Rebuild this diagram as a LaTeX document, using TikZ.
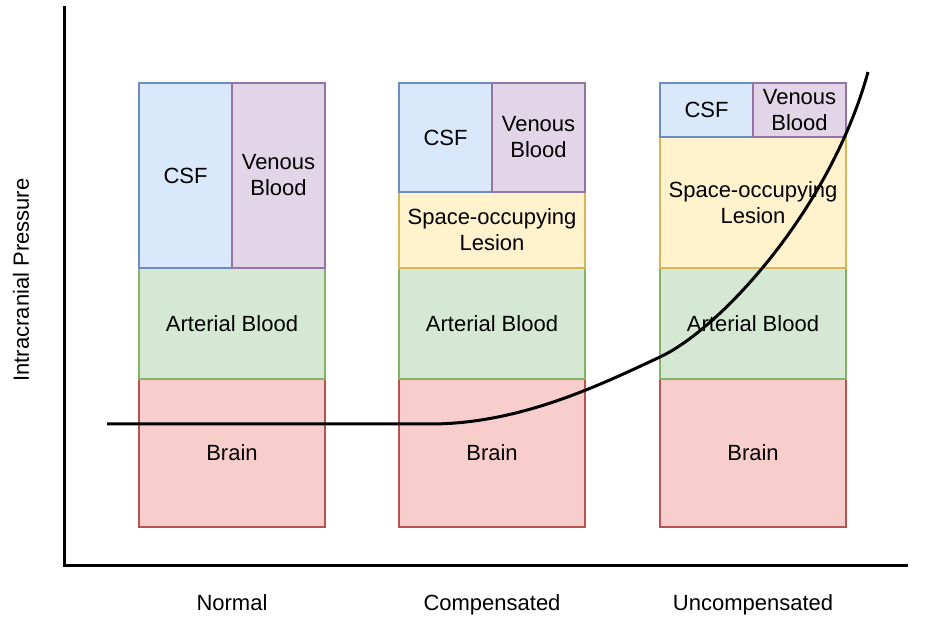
\documentclass[tikz,border=0pt]{standalone}
\usepackage{fontspec}
\setmainfont{Liberation Sans}
\usepackage{xcolor}
\usepackage{tikz}
\usetikzlibrary{positioning, calc}
\definecolor{csffill}{HTML}{DAE8FC}\definecolor{csfline}{HTML}{6C8EBF}
\definecolor{venfill}{HTML}{E1D5E7}\definecolor{venline}{HTML}{9673A6}
\definecolor{lesfill}{HTML}{FFF2CC}\definecolor{lesline}{HTML}{D6B656}
\definecolor{artfill}{HTML}{D5E8D4}\definecolor{artline}{HTML}{82B366}
\definecolor{brafill}{HTML}{F8CECC}\definecolor{braline}{HTML}{B85450}
\tikzstyle{block} = [rectangle, inner sep=0pt, outer sep=0pt, line width=1.2pt, text centered, align=center, minimum width=186pt]
\tikzstyle{brain} = [block, draw=braline, fill=brafill, minimum height=148pt]
\tikzstyle{arterial} = [block, draw=artline, fill=artfill, minimum height=111pt]
\tikzstyle{lesion} = [block, draw=lesline, fill=lesfill]
\tikzstyle{csf} = [block, draw=csfline, fill=csffill, minimum width=93pt]
\tikzstyle{venous} = [block, draw=venline, fill=venfill, minimum width=93pt]
\tikzstyle{axis} = [line width=3pt]
\tikzstyle{label} = [inner sep=0pt]

\begin{document}
\begin{tikzpicture}[x=1pt, y=1pt, font=\fontsize{22}{26}\selectfont]
    \useasboundingbox (0,0) rectangle (945,619);

    % Normal
    \node[brain] (brainA) at (232,166) {Brain};
    \node[arterial, above=0pt of brainA] (artA) {Arterial Blood};
    \node[csf, minimum height=185pt, above=0pt of artA.north west, anchor=south west] (csfA) {CSF};
    \node[venous, minimum height=185pt, right=0pt of csfA] (venA) {Venous\\Blood};

    % Compensated
    \node[brain] (brainB) at (492,166) {Brain};
    \node[arterial, above=0pt of brainB] (artB) {Arterial Blood};
    \node[lesion, minimum height=76pt, above=0pt of artB] (lesB) {Space-occupying\\Lesion};
    \node[csf, minimum height=109pt, above=0pt of lesB.north west, anchor=south west] (csfB) {CSF};
    \node[venous, minimum height=109pt, right=0pt of csfB] (venB) {Venous\\Blood};

    % Uncompensated
    \node[brain] (brainC) at (753,166) {Brain};
    \node[arterial, above=0pt of brainC] (artC) {Arterial Blood};
    \node[lesion, minimum height=131pt, above=0pt of artC] (lesC) {Space-occupying\\Lesion};
    \node[csf, minimum height=54pt, above=0pt of lesC.north west, anchor=south west] (csfC) {CSF};
    \node[venous, minimum height=54pt, right=0pt of csfC] (venC) {Venous\\Blood};

    % Axes
    \coordinate (origin) at (64,54);
    \coordinate (ytop) at (64,613);
    \coordinate (xend) at (908,54);
    \draw[axis] (ytop) -- (origin) -- (xend);
    \node[label, rotate=90] (ylab) at (21,339) {Intracranial Pressure};
    \node[label, anchor=base] (labA) at (232,9) {Normal};
    \node[label, anchor=base] (labB) at (492,9) {Compensated};
    \node[label, anchor=base] (labC) at (753,9) {Uncompensated};

    % Pressure curve
    \coordinate (start) at (107,195);
    \coordinate (knee) at (430,195);
    \coordinate (mid) at (660,262);
    \coordinate (stop) at (868,547);
    \draw[axis] (start) -- (knee) .. controls (520,195) and (600,234) .. (mid)
        .. controls (720,290) and (830,409) .. (stop);

\end{tikzpicture}
\end{document}
